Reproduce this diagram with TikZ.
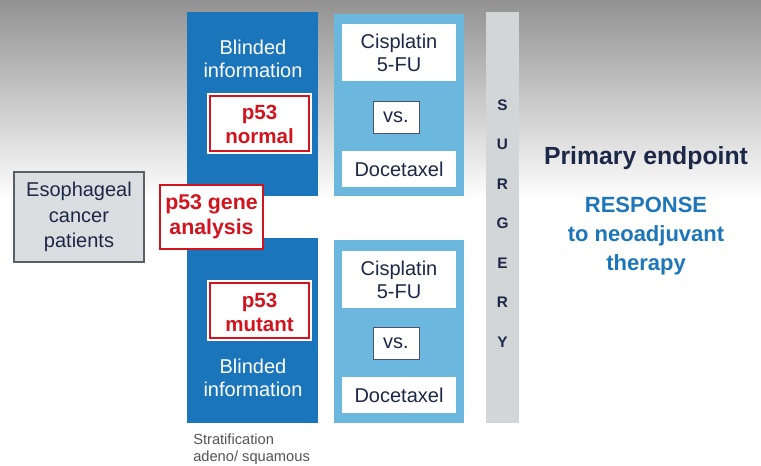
\documentclass[tikz,border=0pt]{standalone}
\usepackage{fontspec}
\setmainfont{Liberation Sans}
\definecolor{dblue}{RGB}{27,117,187}
\definecolor{lblue}{RGB}{107,183,221}
\definecolor{sgray}{RGB}{211,214,215}
\definecolor{efill}{RGB}{219,222,224}
\definecolor{eline}{RGB}{90,96,104}
\definecolor{pred}{RGB}{210,20,30}
\definecolor{navy}{RGB}{28,40,72}
\definecolor{rblue}{RGB}{30,118,186}
\definecolor{bgtop}{RGB}{146,146,146}
\definecolor{sgtext}{RGB}{85,85,85}
\begin{document}
\begin{tikzpicture}[x=0.75pt,y=-0.75pt,
  box/.style={inner sep=0pt,outer sep=0pt},
  darkbox/.style={box,fill=dblue},
  lightbox/.style={box,fill=lblue},
  whitebox/.style={box,fill=white},
  vsbox/.style={box,fill=white,draw=navy!80,line width=0.6pt},
  redbox/.style={box,fill=white,draw=pred,line width=1.1pt},
  txt/.style={inner sep=0pt,align=center,font=\fontsize{15}{17.25}\selectfont},
  wtxt/.style={txt,text=white},
  ntxt/.style={txt,text=navy},
  rtxt/.style={inner sep=0pt,align=center,text=pred,font=\fontsize{15.4}{18}\selectfont\bfseries}
]
\useasboundingbox (0,0) rectangle (761,466);
\shade[top color=bgtop,bottom color=white] (0,0) rectangle (761,200);
\fill[white] (0,199.5) rectangle (761,466);

% left box
\node[box,fill=efill,draw=eline,line width=0.8pt,minimum width=130*0.75pt,minimum height=90*0.75pt] (eso) at (79,217) {};
\node[ntxt,font=\fontsize{15}{19}\selectfont] (esotxt) at (eso) {Esophageal\\cancer\\patients};

% dark blue columns
\node[darkbox,minimum width=131*0.75pt,minimum height=184*0.75pt] (topdark) at (252.5,104) {};
\node[darkbox,minimum width=131*0.75pt,minimum height=185*0.75pt] (botdark) at (252.5,330.5) {};
\node[wtxt] (blindtop) at (253,58.5) {Blinded\\information};
\node[wtxt] (blindbot) at (253,377.5) {Blinded\\information};

% p53 normal / mutant
\node[whitebox,minimum width=105*0.75pt,minimum height=61*0.75pt] (normal) at (259.5,123.5) {};
\draw[pred,line width=1.1pt] ([shift={(3,3)}]normal.north west) rectangle ([shift={(-3,-3)}]normal.south east);
\node[rtxt] (normaltxt) at (259.5,124.5) {p53\\normal};
\node[whitebox,minimum width=105*0.75pt,minimum height=61*0.75pt] (mutant) at (259.5,310.5) {};
\draw[pred,line width=1.1pt] ([shift={(3,3)}]mutant.north west) rectangle ([shift={(-3,-3)}]mutant.south east);
\node[rtxt] (mutanttxt) at (259.5,312) {p53\\mutant};

% gene analysis
\node[redbox,minimum width=103*0.75pt,minimum height=64*0.75pt] (gene) at (211.5,217) {};
\node[rtxt,font=\fontsize{16}{18.5}\selectfont\bfseries] (genetxt) at (gene) {p53 gene\\analysis};

% light blue columns
\node[lightbox,minimum width=130*0.75pt,minimum height=182*0.75pt] (toplight) at (399,105) {};
\node[lightbox,minimum width=130*0.75pt,minimum height=183*0.75pt] (botlight) at (399,331.5) {};

\node[whitebox,minimum width=114*0.75pt,minimum height=57*0.75pt] (cis1) at (399,52.5) {};
\node[ntxt] (cis1txt) at (cis1) {Cisplatin\\5-FU};
\node[vsbox,minimum width=46*0.75pt,minimum height=32*0.75pt] (vs1) at (396,117) {};
\node[ntxt] (vs1txt) at (vs1) {vs.};
\node[whitebox,minimum width=114*0.75pt,minimum height=36*0.75pt] (doc1) at (399,169.5) {};
\node[ntxt] (doc1txt) at (doc1) {Docetaxel};

\node[whitebox,minimum width=114*0.75pt,minimum height=57*0.75pt] (cis2) at (399,279.5) {};
\node[ntxt] (cis2txt) at (cis2) {Cisplatin\\5-FU};
\node[vsbox,minimum width=46*0.75pt,minimum height=32*0.75pt] (vs2) at (396,343) {};
\node[ntxt] (vs2txt) at (vs2) {vs.};
\node[whitebox,minimum width=114*0.75pt,minimum height=36*0.75pt] (doc2) at (399,395.5) {};
\node[ntxt] (doc2txt) at (doc2) {Docetaxel};

% surgery bar
\node[box,fill=sgray,minimum width=33*0.75pt,minimum height=411*0.75pt] (surg) at (502.5,217.5) {};
\node[inner sep=0pt,align=center,text=navy,font=\fontsize{11.5}{29.6}\selectfont\bfseries] (surgtxt) at (502.5,223.5) {S\\U\\R\\G\\E\\R\\Y};

% endpoint
\node[inner sep=0pt,text=navy,font=\fontsize{18.6}{22}\selectfont\bfseries] (prim) at (646,158) {Primary endpoint};
\node[inner sep=0pt,align=center,text=rblue,font=\fontsize{16.5}{21.75}\selectfont\bfseries] (resp) at (646,236) {RESPONSE\\to neoadjuvant\\therapy};

% stratification
\node[inner sep=0pt,align=left,anchor=west,text=sgtext,font=\fontsize{11}{12.5}\selectfont] (strat) at (193,449) {Stratification\\adeno/ squamous};
\end{tikzpicture}
\end{document}
